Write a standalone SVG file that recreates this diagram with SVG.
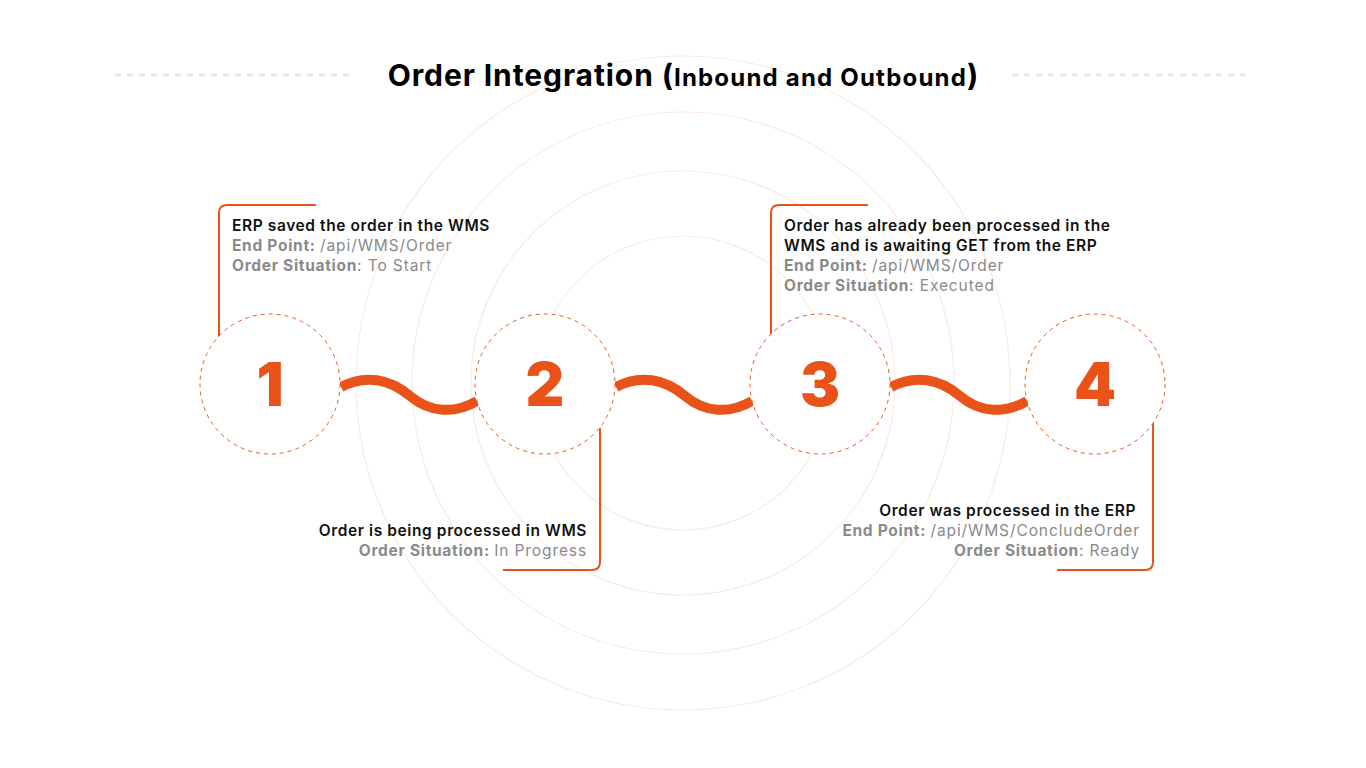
<svg xmlns="http://www.w3.org/2000/svg" width="1366" height="768" viewBox="0 0 1366 768">
<style>
.bg{fill:#fff}
.ring{fill:none;stroke:#fbeae3;stroke-width:1.2}
.dash{stroke:#e8e8e8;stroke-width:3;stroke-dasharray:6 6}
.step{fill:#fff;stroke:#ea5a20;stroke-width:1;stroke-dasharray:4 4}
.num{font-family:Inter,"Noto Sans",sans-serif;font-weight:900;font-size:60px;fill:#e9531a;text-anchor:middle}
.wave{fill:none;stroke:#e9531a;stroke-width:10}
.lead{fill:none;stroke:#e9531a;stroke-width:2}
.t{font-family:Inter,"Noto Sans",sans-serif;font-size:15.5px;letter-spacing:0.6px}
.h{font-weight:600;fill:#111}
.g{fill:#8a8a8a;font-weight:400;letter-spacing:0.9px}
.gb{fill:#8a8a8a;font-weight:700;letter-spacing:0.7px}
.r{text-anchor:end}
.title{font-family:Inter,"Noto Sans",sans-serif;font-weight:700;fill:#000}
</style>
<rect class="bg" width="1366" height="768"/>
<g id="background">
<circle class="ring" cx="683" cy="383" r="327"/>
<circle class="ring" cx="683" cy="383" r="271"/>
<circle class="ring" cx="683" cy="383" r="212"/>
<circle class="ring" cx="683" cy="383" r="147"/>
<line class="dash" x1="115" y1="75" x2="355" y2="75"/>
<line class="dash" x1="1012" y1="75" x2="1252" y2="75"/>
</g>
<g id="title">
<text class="title" x="683" y="86" text-anchor="middle"><tspan font-size="30" letter-spacing="0.9">Order Integration (</tspan><tspan font-size="24" letter-spacing="1.2">Inbound and Outbound</tspan><tspan font-size="30">)</tspan></text>
</g>
<g id="connectors">
<path class="wave" d="M341,387 C365,374 390,379 410,396 C430,413 455,414 477,401"/>
<path class="wave" d="M616,387 C640,374 665,379 685,396 C705,413 730,414 752,401"/>
<path class="wave" d="M891,387 C915,374 940,379 960,396 C980,413 1005,414 1027,401"/>
<path class="lead" d="M219,337 V213 Q219,205 227,205 H316"/>
<path class="lead" d="M600,428 V562 Q600,570 592,570 H503"/>
<path class="lead" d="M771,337 V213 Q771,205 779,205 H868"/>
<path class="lead" d="M1153,423 V562 Q1153,570 1145,570 H1057"/>
</g>
<g id="step1">
<circle class="step" cx="270" cy="384" r="70"/>
<text class="num" x="270" y="406">1</text>
</g>
<g id="step2">
<circle class="step" cx="545" cy="384" r="70"/>
<text class="num" x="545" y="406">2</text>
</g>
<g id="step3">
<circle class="step" cx="820" cy="384" r="70"/>
<text class="num" x="820" y="406">3</text>
</g>
<g id="step4">
<circle class="step" cx="1095" cy="384" r="70"/>
<text class="num" x="1095" y="406">4</text>
</g>
<g id="note1">
<text class="t h" x="232" y="231">ERP saved the order in the WMS</text>
<text class="t" x="232" y="251"><tspan class="gb">End Point: </tspan><tspan class="g">/api/WMS/Order</tspan></text>
<text class="t" x="232" y="271"><tspan class="gb">Order Situation</tspan><tspan class="g">: To Start</tspan></text>
</g>
<g id="note2">
<text class="t h r" x="587" y="536">Order is being processed in WMS</text>
<text class="t r" x="587" y="556"><tspan class="gb">Order Situation: </tspan><tspan class="g">In Progress</tspan></text>
</g>
<g id="note3">
<text class="t h" x="784" y="231">Order has already been processed in the</text>
<text class="t h" x="784" y="251">WMS and is awaiting GET from the ERP</text>
<text class="t" x="784" y="271"><tspan class="gb">End Point: </tspan><tspan class="g">/api/WMS/Order</tspan></text>
<text class="t" x="784" y="291"><tspan class="gb">Order Situation</tspan><tspan class="g">: Executed</tspan></text>
</g>
<g id="note4">
<text class="t h r" x="1136" y="516">Order was processed in the ERP</text>
<text class="t r" x="1140" y="536"><tspan class="gb">End Point: </tspan><tspan class="g">/api/WMS/ConcludeOrder</tspan></text>
<text class="t r" x="1140" y="556"><tspan class="gb">Order Situation</tspan><tspan class="g">: Ready</tspan></text>
</g>
</svg>
